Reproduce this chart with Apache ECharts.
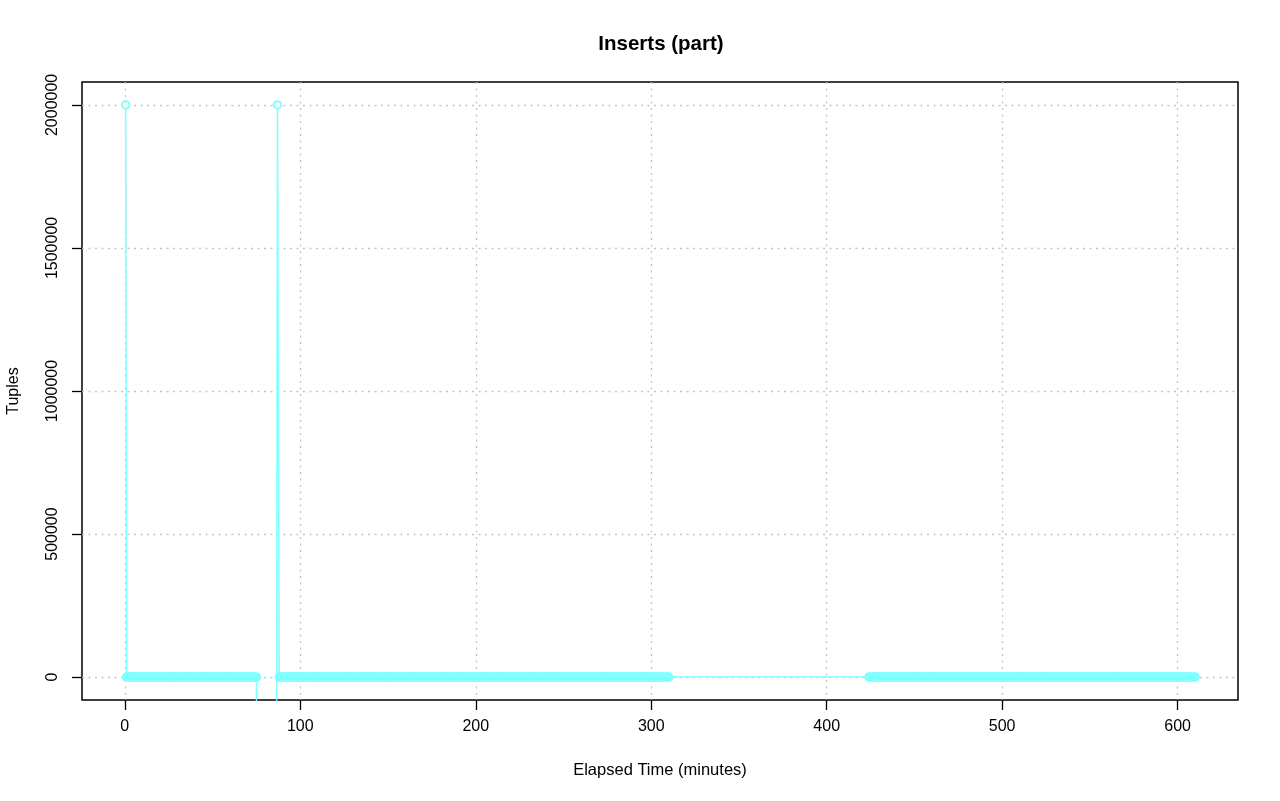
<!DOCTYPE html>
<html>
<head>
<meta charset="utf-8">
<title>Inserts (part)</title>
<script src="https://cdn.jsdelivr.net/npm/echarts@6/dist/echarts.min.js"></script>
<style>
  html, body { margin: 0; padding: 0; background: #fff; }
  #chart { width: 1280px; height: 801px; }
</style>
</head>
<body>
<div id="chart"></div>
<script>
// Inserts on the part table, one sample a minute.
// bursts and dips (the dips run below the visible range)
var burstMinutes = [0.5, 76, 86, 87];
var burstTuples = [2000000, -2500000, -2500000, 2000000];
// stretches where the counter sits on zero: [first minute, last minute]
var flatRuns = [[1, 75], [88, 310], [424, 610]];
var flatTuples = 0;

var xTicks = [0, 100, 200, 300, 400, 500, 600];
var yTicks = [0, 500000, 1000000, 1500000, 2000000];

var points = [];
for (var i = 0; i < burstMinutes.length; i++) {
  points.push([burstMinutes[i], burstTuples[i]]);
}
flatRuns.forEach(function (run) {
  for (var m = run[0]; m <= run[1]; m++) points.push([m, flatTuples]);
});
points.sort(function (a, b) { return a[0] - b[0]; });

var font = "'Liberation Sans', Arial, sans-serif";
var cyan = '#80ffff';
var dotted = { show: true, lineStyle: { color: '#c4c4c4', width: 1.3, type: [2, 4.5] } };

var myChart = echarts.init(document.getElementById('chart'), null, { renderer: 'canvas' });
var option = {
  animation: false,
  backgroundColor: '#fff',
  title: {
    text: 'Inserts (part)',
    left: 656,
    top: 29,
    textAlign: 'center',
    textStyle: { fontFamily: font, fontSize: 20.5, fontWeight: 'bold', color: '#000' }
  },
  grid: {
    left: 82, right: 42, top: 82, bottom: 101,
    outerBoundsMode: 'none',
    containLabel: false,
    show: true, borderColor: '#000', borderWidth: 1.5, backgroundColor: 'transparent'
  },
  xAxis: {
    type: 'value',
    min: -24.4,
    max: 634.4,
    z: 3,
    name: 'Elapsed Time (minutes)',
    nameLocation: 'middle',
    nameGap: 62,
    nameTextStyle: { fontFamily: font, fontSize: 16.5, color: '#000' },
    axisLine: { show: false, onZero: false },
    axisTick: { show: true, customValues: xTicks, length: 10, lineStyle: { color: '#000', width: 1.3 } },
    axisLabel: {
      customValues: xTicks, margin: 19,
      fontFamily: font, fontSize: 16, color: '#000',
      formatter: function (v) { return String(v); }
    },
    splitLine: dotted
  },
  yAxis: {
    type: 'value',
    min: -80000,
    max: 2080000,
    z: 3,
    name: 'Tuples',
    nameLocation: 'middle',
    nameGap: 60,
    nameTextStyle: { fontFamily: font, fontSize: 16, color: '#000' },
    axisLine: { show: false, onZero: false },
    axisTick: { show: true, customValues: yTicks, length: 10, lineStyle: { color: '#000', width: 1.3 } },
    axisLabel: {
      customValues: yTicks, margin: 21, rotate: 90,
      fontFamily: font, fontSize: 16, color: '#000',
      formatter: function (v) { return String(v); }
    },
    splitLine: dotted
  },
  series: [{
    type: 'line',
    data: points,
    clip: true,
    symbol: function (v) { return v[1] > 100000 ? 'emptyCircle' : 'circle'; },
    symbolSize: function (v) { return v[1] > 100000 ? 7.5 : 8; },
    itemStyle: { color: cyan, borderColor: cyan, borderWidth: 1.5 },
    lineStyle: { color: cyan, width: 1.5 },
    emphasis: { disabled: true }
  }]
};
myChart.setOption(option);
</script>
</body>
</html>
